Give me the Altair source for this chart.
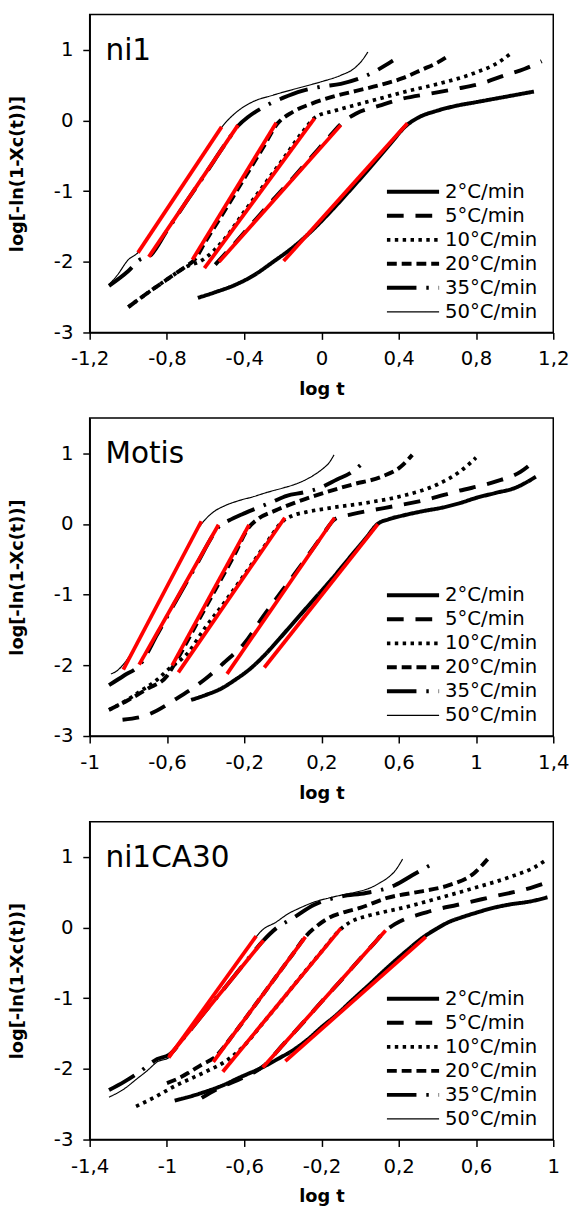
import altair as alt
import pandas as pd

FONT = "DejaVu Sans"
SERIES = ["2°C/min", "5°C/min", "10°C/min", "20°C/min", "35°C/min", "50°C/min"]
DASHES = [[1, 0], [17, 12], [3.5, 4.5], [10, 5], [30, 10, 2.5, 10], [1, 0]]
WIDTHS = [4, 4, 3.8, 4, 4, 1.2]

Y_TICKS = [-3, -2, -1, 0, 1]

# ---------------- ni1 ----------------
NI1_X_TICKS = [-1.2, -0.8, -0.4, 0, 0.4, 0.8, 1.2]
NI1_2_X = [-0.64, -0.55, -0.45, -0.35, -0.25, -0.15, -0.05, 0.05, 0.15, 0.25, 0.35, 0.44, 0.50, 0.60, 0.70, 0.80, 0.90, 1.0, 1.10]
NI1_2_Y = [-2.51, -2.43, -2.33, -2.19, -2.0, -1.80, -1.56, -1.28, -0.98, -0.67, -0.35, -0.07, 0.04, 0.14, 0.21, 0.26, 0.31, 0.36, 0.41]
NI1_5_X = [-0.55, -0.45, -0.35, -0.25, -0.15, -0.05, 0.05, 0.10, 0.18, 0.30, 0.42, 0.56, 0.70, 0.82, 0.95, 1.05, 1.14]
NI1_5_Y = [-2.04, -1.74, -1.43, -1.12, -0.82, -0.51, -0.2, -0.05, 0.1, 0.21, 0.31, 0.38, 0.45, 0.52, 0.64, 0.73, 0.84]
NI1_10_X = [-1.0, -0.90, -0.80, -0.70, -0.62, -0.50, -0.40, -0.30, -0.20, -0.10, -0.03, 0.07, 0.19, 0.30, 0.45, 0.62, 0.79, 0.92, 0.98]
NI1_10_Y = [-2.64, -2.44, -2.25, -2.07, -1.98, -1.67, -1.29, -0.92, -0.55, -0.17, 0.05, 0.14, 0.23, 0.31, 0.42, 0.53, 0.67, 0.83, 0.95]
NI1_20_X = [-1.0, -0.90, -0.80, -0.70, -0.66, -0.60, -0.50, -0.40, -0.30, -0.23, -0.15, -0.05, 0.05, 0.18, 0.30, 0.42, 0.52, 0.60, 0.66]
NI1_20_Y = [-2.64, -2.44, -2.25, -2.06, -1.98, -1.71, -1.27, -0.82, -0.37, -0.05, 0.12, 0.24, 0.33, 0.42, 0.50, 0.60, 0.72, 0.82, 0.92]
NI1_35_X = [-1.10, -1.0, -0.94, -0.89, -0.80, -0.70, -0.60, -0.50, -0.43, -0.38, -0.30, -0.20, -0.10, 0.0, 0.10, 0.20, 0.28, 0.33, 0.37]
NI1_35_Y = [-2.34, -2.13, -1.97, -1.92, -1.56, -1.15, -0.75, -0.34, -0.07, 0.05, 0.19, 0.32, 0.42, 0.48, 0.52, 0.60, 0.70, 0.78, 0.85]
NI1_50_X = [-1.10, -1.06, -1.0, -0.95, -0.87, -0.78, -0.70, -0.62, -0.55, -0.50, -0.44, -0.36, -0.25, -0.12, 0.0, 0.10, 0.17, 0.21, 0.24]
NI1_50_Y = [-2.32, -2.2, -1.97, -1.87, -1.54, -1.17, -0.84, -0.51, -0.22, -0.04, 0.12, 0.26, 0.36, 0.46, 0.55, 0.64, 0.74, 0.85, 0.97]
NI1_FIT_X0 = [-0.95, -0.894, -0.668, -0.606, -0.530, -0.196]
NI1_FIT_Y0 = [-1.87, -1.93, -1.97, -2.09, -2.0, -1.99]
NI1_FIT_X1 = [-0.517, -0.432, -0.234, -0.036, 0.100, 0.445]
NI1_FIT_Y1 = [-0.09, -0.065, -0.03, 0.03, -0.065, -0.04]

# ---------------- Motis ----------------
MO_X_TICKS = [-1, -0.6, -0.2, 0.2, 0.6, 1, 1.4]
MO_2_X = [-0.475, -0.40, -0.32, -0.25, -0.17, -0.10, -0.02, 0.06, 0.15, 0.25, 0.35, 0.43, 0.49, 0.55, 0.62, 0.72, 0.82, 0.92, 1.0, 1.1, 1.2, 1.31]
MO_2_Y = [-2.49, -2.42, -2.33, -2.21, -2.05, -1.87, -1.63, -1.38, -1.10, -0.79, -0.46, -0.2, 0.0, 0.07, 0.12, 0.18, 0.23, 0.3, 0.37, 0.44, 0.51, 0.67]
MO_5_X = [-0.83, -0.70, -0.55, -0.40, -0.30, -0.20, -0.10, 0.0, 0.10, 0.20, 0.27, 0.36, 0.53, 0.72, 0.91, 1.10, 1.23, 1.31]
MO_5_Y = [-2.77, -2.70, -2.47, -2.19, -1.95, -1.69, -1.30, -0.93, -0.56, -0.18, 0.07, 0.14, 0.23, 0.33, 0.47, 0.60, 0.74, 0.91]
MO_10_X = [-0.90, -0.80, -0.74, -0.65, -0.59, -0.50, -0.40, -0.30, -0.20, -0.10, 0.0, 0.05, 0.12, 0.25, 0.43, 0.62, 0.80, 0.92, 1.0]
MO_10_Y = [-2.63, -2.48, -2.37, -2.2, -2.05, -1.85, -1.46, -1.10, -0.72, -0.33, 0.04, 0.12, 0.17, 0.23, 0.30, 0.40, 0.56, 0.75, 0.94]
MO_20_X = [-0.90, -0.80, -0.70, -0.60, -0.55, -0.45, -0.35, -0.25, -0.18, -0.13, -0.04, 0.06, 0.2, 0.36, 0.51, 0.61, 0.67]
MO_20_Y = [-2.63, -2.49, -2.33, -2.15, -1.93, -1.43, -0.93, -0.43, -0.06, 0.07, 0.19, 0.30, 0.43, 0.56, 0.67, 0.81, 0.98]
MO_35_X = [-0.90, -0.82, -0.74, -0.65, -0.55, -0.45, -0.36, -0.33, -0.28, -0.21, -0.13, -0.05, 0.02, 0.11, 0.19, 0.28, 0.36, 0.42]
MO_35_Y = [-2.28, -2.14, -1.99, -1.56, -1.07, -0.59, -0.15, -0.03, 0.05, 0.14, 0.23, 0.32, 0.40, 0.45, 0.51, 0.63, 0.74, 0.88]
MO_50_X = [-0.89, -0.86, -0.83, -0.76, -0.66, -0.55, -0.44, -0.40, -0.36, -0.30, -0.23, -0.15, -0.08, 0.0, 0.06, 0.12, 0.17, 0.21, 0.24, 0.265]
MO_50_Y = [-2.12, -2.08, -2.0, -1.72, -1.2, -0.62, -0.07, 0.07, 0.17, 0.26, 0.33, 0.39, 0.45, 0.51, 0.56, 0.63, 0.71, 0.79, 0.87, 0.98]
MO_FIT_X0 = [-0.826, -0.744, -0.573, -0.541, -0.289, -0.096]
MO_FIT_Y0 = [-2.06, -1.99, -2.0, -2.10, -2.12, -2.03]
MO_FIT_X1 = [-0.422, -0.333, -0.175, 0.010, 0.268, 0.492]
MO_FIT_Y1 = [0.04, -0.01, -0.01, 0.09, 0.09, 0.0]

# ---------------- ni1CA30 ----------------
CA_X_TICKS = [-1.4, -1, -0.6, -0.2, 0.2, 0.6, 1]
CA_2_X = [-0.96, -0.82, -0.70, -0.63, -0.50, -0.42, -0.35, -0.27, -0.20, -0.12, -0.05, 0.05, 0.14, 0.24, 0.33, 0.40, 0.46, 0.52, 0.60, 0.69, 0.78, 0.88, 0.97]
CA_2_Y = [-2.45, -2.34, -2.22, -2.13, -1.97, -1.85, -1.74, -1.58, -1.41, -1.23, -1.05, -0.80, -0.57, -0.33, -0.13, -0.01, 0.08, 0.14, 0.21, 0.28, 0.33, 0.37, 0.43]
CA_5_X = [-0.82, -0.73, -0.61, -0.50, -0.40, -0.30, -0.20, -0.10, 0.0, 0.07, 0.13, 0.18, 0.24, 0.31, 0.40, 0.50, 0.69, 0.88, 0.97]
CA_5_Y = [-2.41, -2.27, -2.13, -1.96, -1.66, -1.36, -1.05, -0.75, -0.44, -0.23, -0.05, 0.05, 0.13, 0.19, 0.26, 0.32, 0.44, 0.56, 0.64]
CA_10_X = [-1.16, -1.07, -0.95, -0.87, -0.80, -0.69, -0.60, -0.50, -0.40, -0.30, -0.20, -0.10, -0.05, 0.03, 0.12, 0.22, 0.41, 0.59, 0.78, 0.90, 0.97]
CA_10_Y = [-2.53, -2.41, -2.23, -2.13, -2.04, -1.88, -1.67, -1.34, -1.01, -0.67, -0.34, -0.02, 0.08, 0.16, 0.22, 0.28, 0.42, 0.56, 0.72, 0.85, 0.97]
CA_20_X = [-1.0, -0.93, -0.88, -0.82, -0.76, -0.65, -0.55, -0.45, -0.35, -0.28, -0.22, -0.16, -0.08, 0.0, 0.14, 0.31, 0.46, 0.59, 0.66]
CA_20_Y = [-2.20, -2.12, -2.04, -1.94, -1.85, -1.49, -1.12, -0.75, -0.38, -0.12, 0.03, 0.14, 0.22, 0.28, 0.42, 0.51, 0.60, 0.77, 0.97]
CA_35_X = [-1.30, -1.22, -1.14, -1.05, -0.99, -0.90, -0.80, -0.70, -0.60, -0.50, -0.43, -0.35, -0.24, -0.10, 0.03, 0.18, 0.27, 0.36]
CA_35_Y = [-2.30, -2.18, -2.04, -1.86, -1.80, -1.52, -1.18, -0.85, -0.51, -0.18, 0.0, 0.13, 0.32, 0.44, 0.49, 0.60, 0.74, 0.88]
CA_50_X = [-1.30, -1.22, -1.16, -1.10, -1.05, -0.99, -0.93, -0.88, -0.80, -0.73, -0.65, -0.58, -0.50, -0.44, -0.37, -0.31, -0.24, -0.16, -0.08, -0.01, 0.05, 0.10, 0.15, 0.18, 0.22]
CA_50_Y = [-2.40, -2.28, -2.15, -2.02, -1.90, -1.84, -1.61, -1.42, -1.11, -0.85, -0.55, -0.28, -0.02, 0.07, 0.2, 0.28, 0.36, 0.42, 0.47, 0.51, 0.56, 0.63, 0.72, 0.80, 0.97]
CA_FIT_X0 = [-0.991, -0.987, -0.760, -0.711, -0.504, -0.387]
CA_FIT_Y0 = [-1.84, -1.81, -1.90, -2.04, -1.98, -1.89]
CA_FIT_X1 = [-0.538, -0.5, -0.283, -0.10, 0.132, 0.340]
CA_FIT_Y1 = [-0.12, -0.18, -0.13, -0.01, -0.04, -0.13]

LBL = "replace(toString(datum.value), '.', ',')"


def build_panel(name, curves, fits, xdom, xticks):
    rows = []
    for s, (xs, ys) in zip(SERIES, curves):
        for x, y in zip(xs, ys):
            rows.append({"series": s, "x": x, "y": y})
    cdf = pd.DataFrame(rows)
    x0, y0, x1, y1 = fits
    frows = []
    for i in range(len(x0)):
        frows.append({"fit": i, "x": x0[i], "y": y0[i]})
        frows.append({"fit": i, "x": x1[i], "y": y1[i]})
    fdf = pd.DataFrame(frows)

    xs = alt.Scale(domain=xdom, nice=False, zero=False)
    ys = alt.Scale(domain=[-3, 1.5], nice=False, zero=False)
    xax = alt.Axis(values=xticks, labelExpr=LBL, title="log t",
                   labelFlush=False, labelOverlap=False)
    yax = alt.Axis(values=Y_TICKS, labelExpr=LBL, title="log[-ln(1-Xc(t))]",
                   labelFlush=False, labelOverlap=False)
    legend = alt.Legend(title=None, orient="none", legendX=300, legendY=170,
                        symbolType="stroke", symbolSize=2809, clipHeight=20,
                        labelFontSize=20, labelFont=FONT, labelColor="black",
                        rowPadding=4.4, labelOffset=4, symbolStrokeColor="black",
                        labelLimit=0, padding=0)

    lines = alt.Chart(cdf).mark_line(interpolate="monotone", color="black", clip=True).encode(
        x=alt.X("x:Q", scale=xs, axis=xax),
        y=alt.Y("y:Q", scale=ys, axis=yax),
        strokeDash=alt.StrokeDash("series:N", scale=alt.Scale(domain=SERIES, range=DASHES), legend=legend),
        strokeWidth=alt.StrokeWidth("series:N", scale=alt.Scale(type="ordinal", domain=SERIES, range=WIDTHS), legend=legend),
    )
    fitl = alt.Chart(fdf).mark_line(color="#ff0000", strokeWidth=3.8, clip=True).encode(
        x=alt.X("x:Q", scale=xs),
        y=alt.Y("y:Q", scale=ys),
        detail="fit:N",
    )
    txt = alt.Chart(pd.DataFrame({"t": [name]})).mark_text(
        align="left", baseline="alphabetic", fontSize=30, font=FONT, color="black"
    ).encode(text="t:N", x=alt.value(16), y=alt.value(46))
    return alt.layer(lines, fitl, txt).properties(width=471, height=323)


p1 = build_panel("ni1",
                 [(NI1_2_X, NI1_2_Y), (NI1_5_X, NI1_5_Y), (NI1_10_X, NI1_10_Y),
                  (NI1_20_X, NI1_20_Y), (NI1_35_X, NI1_35_Y), (NI1_50_X, NI1_50_Y)],
                 (NI1_FIT_X0, NI1_FIT_Y0, NI1_FIT_X1, NI1_FIT_Y1), [-1.2, 1.2], NI1_X_TICKS)
p2 = build_panel("Motis",
                 [(MO_2_X, MO_2_Y), (MO_5_X, MO_5_Y), (MO_10_X, MO_10_Y),
                  (MO_20_X, MO_20_Y), (MO_35_X, MO_35_Y), (MO_50_X, MO_50_Y)],
                 (MO_FIT_X0, MO_FIT_Y0, MO_FIT_X1, MO_FIT_Y1), [-1, 1.4], MO_X_TICKS)
p3 = build_panel("ni1CA30",
                 [(CA_2_X, CA_2_Y), (CA_5_X, CA_5_Y), (CA_10_X, CA_10_Y),
                  (CA_20_X, CA_20_Y), (CA_35_X, CA_35_Y), (CA_50_X, CA_50_Y)],
                 (CA_FIT_X0, CA_FIT_Y0, CA_FIT_X1, CA_FIT_Y1), [-1.4, 1], CA_X_TICKS)

chart = alt.vconcat(p1, p2, p3, spacing=18).resolve_scale(
    x="independent", y="independent", strokeDash="independent", strokeWidth="independent"
).resolve_legend(
    strokeDash="independent", strokeWidth="independent"
).properties(
    padding={"left": 0, "top": -4, "right": 0, "bottom": 0}
).configure_view(
    stroke="black", strokeWidth=1.5
).configure_axis(
    domainColor="black", domainWidth=1.5, tickColor="black", tickWidth=1.5, tickSize=7,
    labelFont=FONT, labelFontSize=20, labelColor="black",
    titleFont=FONT, titleFontSize=18, titleFontWeight="bold", titleColor="black",
    grid=False
).configure_axisY(
    titlePadding=27, labelPadding=10
).configure_axisX(
    titlePadding=12, labelPadding=10
)

chart.save("out.html", embed_options={"renderer": "svg", "actions": False})
